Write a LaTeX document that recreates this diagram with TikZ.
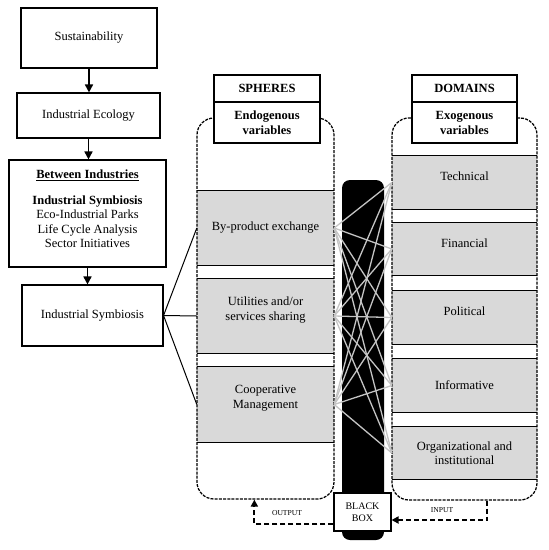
\documentclass[tikz,border=0pt]{standalone}
\usepackage{fontspec}
\setmainfont{Liberation Serif}
\usetikzlibrary{arrows.meta}
\definecolor{boxgray}{HTML}{D9D9D9}
\definecolor{linegray}{HTML}{C4C4C4}
\begin{document}
\begin{tikzpicture}[x=1pt,y=-1pt,
  font=\fontsize{12.5}{14.5}\selectfont,
  box/.style={draw=black, line width=1.1pt, fill=white, inner sep=2pt, align=center},
  graybox/.style={fill=boxgray, draw=none, inner sep=2pt, align=center},
  hdr/.style={draw=black, line width=1.1pt, fill=white, inner sep=1pt, align=center, font=\fontsize{12.5}{15}\selectfont\bfseries},
  container/.style={draw=black, line width=1.25pt, dash pattern=on 3pt off 1.2pt, rounded corners=17pt, inner sep=0pt},
  flow/.style={line width=1.6pt, -{Triangle[length=8pt,width=8pt]}},
  link/.style={line width=1pt, draw=black},
  gline/.style={line width=1.3pt, draw=linegray},
  dasharrow/.style={line width=1.8pt, dash pattern=on 5pt off 3pt, -{Triangle[length=7pt,width=7pt]}},
  small/.style={font=\fontsize{7.6}{9}\selectfont}
]
\useasboundingbox (0,0) rectangle (549,550);

% left column
\node[box, minimum width=136, minimum height=60] (sust) at (89,38) {Sustainability};
\node[box, minimum width=143, minimum height=45] (eco) at (88.5,115.5) {Industrial Ecology};
\node[box, minimum width=157, minimum height=107] (betw) at (87.5,213.5) {};
\node[align=center, inner sep=0pt] (bettext) at (87.5,209)
  {\underline{\textbf{Between Industries}}\\[11pt]\textbf{Industrial Symbiosis}\\Eco-Industrial Parks\\Life Cycle Analysis\\Sector Initiatives};
\node[box, minimum width=141, minimum height=61] (indsym) at (92.5,315.5) {Industrial Symbiosis};

\draw[flow] (sust.south) -- (sust.south |- eco.north);
\draw[flow] (eco.south) -- (eco.south |- betw.north);
\draw[flow] (betw.south) -- (betw.south |- indsym.north);

% black bar
\node[fill=black, rounded corners=8pt, minimum width=42, minimum height=360, inner sep=0pt] (bar) at (363,360) {};

% gray boxes (spheres)
\node[graybox, minimum width=137, minimum height=74] (byp) at (265.5,228) {By-product exchange};
\node[graybox, minimum width=137, minimum height=74, text depth=15pt] (util) at (265.5,316) {Utilities and/or\\services sharing};
\node[graybox, minimum width=137, minimum height=75, text depth=15pt] (coop) at (265.5,404.5) {Cooperative\\Management};

% gray boxes (domains)
\node[graybox, minimum width=145, minimum height=53, text depth=12pt] (tech) at (464.5,182.5) {Technical};
\node[graybox, minimum width=145, minimum height=52, text depth=12pt] (fin) at (464.5,249) {Financial};
\node[graybox, minimum width=145, minimum height=53, text depth=12pt] (pol) at (464.5,317.5) {Political};
\node[graybox, minimum width=145, minimum height=53] (inf) at (464.5,385.5) {Informative};
\node[graybox, minimum width=145, minimum height=52] (org) at (464.5,453) {Organizational and\\institutional};

\foreach \b in {byp,util,coop,tech,fin,pol,inf,org}{
  \draw[line width=1.1pt] (\b.north west) -- (\b.north east);
  \draw[line width=1.1pt] (\b.south west) -- (\b.south east);
}

% containers
\node[container, minimum width=137, minimum height=381] (lcont) at (265.5,308.5) {};
\node[container, minimum width=145, minimum height=382] (rcont) at (464.5,309) {};

% headers
\node[hdr, minimum width=106, minimum height=27] (sph1) at (267,88.5) {SPHERES};
\node[hdr, minimum width=106, minimum height=41] (sph2) at (267,122.5) {Endogenous\\variables};
\node[hdr, minimum width=105, minimum height=27] (dom1) at (464.5,88.5) {DOMAINS};
\node[hdr, minimum width=105, minimum height=41] (dom2) at (464.5,122.5) {Exogenous\\variables};

% links from Industrial Symbiosis
\foreach \b in {byp,util,coop}{
  \draw[link] (indsym.east) -- (\b.west);
}

% gray complete bipartite lines
\foreach \l in {byp,util,coop}{
  \foreach \r in {tech,fin,pol,inf,org}{
    \draw[gline] (\l.east) -- (\r.west);
  }
}

% black box
\node[box, minimum width=57, minimum height=38, font=\fontsize{10}{12}\selectfont] (bb) at (362.5,512) {BLACK\\BOX};

\draw[dasharrow] ([yshift=-12pt]bb.west) -| ([xshift=58pt]lcont.south west);
\draw[dasharrow] ([xshift=96pt]rcont.south west) |- ([yshift=-8pt]bb.east);

\node[small] (outl) at (287,513) {OUTPUT};
\node[small] (inl) at (442,510) {INPUT};
\end{tikzpicture}
\end{document}
